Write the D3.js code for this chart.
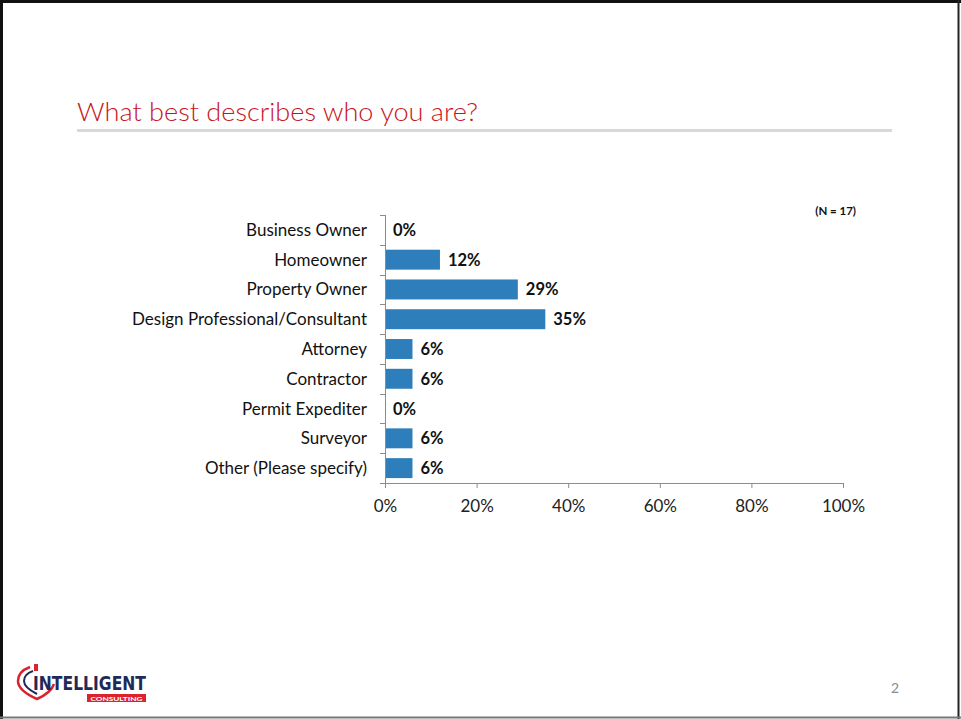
<!DOCTYPE html>
<html>
<head>
<meta charset="utf-8">
<script src="https://cdn.jsdelivr.net/npm/d3@7"></script>
<style>
  html, body { margin: 0; padding: 0; background: #fff; }
  svg { display: block; }
  text { font-family: Lato, "Open Sans", sans-serif; }
</style>
</head>
<body>
<svg id="chart" width="961" height="719"></svg>
<script>
// Survey responses: share of respondents in each group (N = 17)
const categories = [
  "Business Owner",
  "Homeowner",
  "Property Owner",
  "Design Professional/Consultant",
  "Attorney",
  "Contractor",
  "Permit Expediter",
  "Surveyor",
  "Other (Please specify)"
];
const values = [0, 12, 29, 35, 6, 6, 0, 6, 6];
const xTicks = [0, 20, 40, 60, 80, 100];
const titleText = "What best describes who you are?";
const sampleNote = "(N = 17)";
const pageNumber = "2";

const svg = d3.select("#chart");

// Slide frame
svg.append("line").attr("x1", 0).attr("x2", 961).attr("y1", 1.5).attr("y2", 1.5)
  .attr("stroke", "#111").attr("stroke-width", 3);
svg.append("line").attr("x1", 1.5).attr("x2", 1.5).attr("y1", 0).attr("y2", 719)
  .attr("stroke", "#111").attr("stroke-width", 3);
svg.append("line").attr("x1", 958.5).attr("x2", 958.5).attr("y1", 0).attr("y2", 719)
  .attr("stroke", "#222").attr("stroke-width", 2);
svg.append("line").attr("x1", 0).attr("x2", 961).attr("y1", 717.5).attr("y2", 717.5)
  .attr("stroke", "#777").attr("stroke-width", 2);

// Title and rule beneath it
svg.append("text")
  .attr("x", 77).attr("y", 121)
  .attr("fill", "#c8151c")
  .style("font-family", "Lato, 'Liberation Sans', Arial, sans-serif")
  .style("font-weight", "300")
  .style("font-size", "25px")
  .attr("textLength", 401).attr("lengthAdjust", "spacingAndGlyphs")
  .text(titleText);
svg.append("line").attr("x1", 77).attr("x2", 892).attr("y1", 130.5).attr("y2", 130.5)
  .attr("stroke", "#d9d9d9").attr("stroke-width", 3);

// Chart area
const plot = { left: 385, right: 843, top: 215, bottom: 483 };

const x = d3.scaleLinear().domain([0, 100]).range([plot.left, plot.right]);
const y = d3.scaleBand().domain(categories).range([plot.top, plot.bottom])
  .paddingInner(0.33).paddingOuter(0.165);
const yRows = d3.scaleBand().domain(categories).range([plot.top, plot.bottom]);

const axisColor = "#8c8c8c";

// Bars
svg.append("g").selectAll("rect")
  .data(categories)
  .join("rect")
  .attr("x", x(0))
  .attr("y", d => y(d))
  .attr("width", (d, i) => x(values[i]) - x(0))
  .attr("height", y.bandwidth())
  .attr("fill", "#2e7ebb");

// Value labels
svg.append("g").selectAll("text")
  .data(categories)
  .join("text")
  .attr("x", (d, i) => x(values[i]) + 8)
  .attr("y", d => y(d) + y.bandwidth() / 2 + 6)
  .style("font-size", "16.5px")
  .style("font-weight", "bold")
  .attr("fill", "#111")
  .text((d, i) => values[i] + "%");

// X axis (ticks point down)
const xAxis = svg.append("g")
  .attr("transform", `translate(0,${plot.bottom})`)
  .call(d3.axisBottom(x).tickValues(xTicks).tickSize(5).tickSizeOuter(0)
    .tickFormat(d => d + "%"));
xAxis.select(".domain").attr("stroke", axisColor);
xAxis.selectAll(".tick line").attr("stroke", axisColor);
xAxis.selectAll(".tick text")
  .attr("y", 17)
  .style("font-family", "Lato, 'Open Sans', sans-serif")
  .style("font-size", "17px")
  .attr("fill", "#222");

// Y axis: line with ticks at row boundaries, labels centred on rows
const yAxis = svg.append("g");
yAxis.append("line")
  .attr("x1", plot.left + 0.5).attr("x2", plot.left + 0.5)
  .attr("y1", plot.top).attr("y2", plot.bottom)
  .attr("stroke", axisColor);
const boundaries = categories.map(c => yRows(c)).concat([plot.bottom]);
yAxis.selectAll("line.tick")
  .data(boundaries)
  .join("line")
  .attr("class", "tick")
  .attr("x1", plot.left - 5).attr("x2", plot.left)
  .attr("y1", d => Math.round(d) + 0.5).attr("y2", d => Math.round(d) + 0.5)
  .attr("stroke", axisColor);
yAxis.selectAll("text")
  .data(categories)
  .join("text")
  .attr("x", plot.left - 18)
  .attr("y", d => yRows(d) + yRows.bandwidth() / 2 + 6)
  .attr("text-anchor", "end")
  .style("font-size", "17px")
  .attr("fill", "#111")
  .text(d => d);

// Sample size note
svg.append("text")
  .attr("x", 856).attr("y", 215)
  .attr("text-anchor", "end")
  .style("font-size", "11.5px")
  .style("font-weight", "bold")
  .attr("fill", "#111")
  .text(sampleNote);

// Page number
svg.append("text")
  .attr("x", 895).attr("y", 693)
  .attr("text-anchor", "middle")
  .style("font-size", "14px")
  .attr("fill", "#8c8c8c")
  .text(pageNumber);

// Company logo
const logo = svg.append("g");
logo.append("path")
  .attr("d", "M30,667 C22,670 18,675 18,681 C18,689 28,695 37,699 C46,695 52,690 54,684")
  .attr("fill", "none").attr("stroke", "#d9232e").attr("stroke-width", 2.5);
logo.append("path")
  .attr("d", "M33,671 C27,673 24,677 24,681 C24,687 31,691 37,694")
  .attr("fill", "none").attr("stroke", "#1f2a5a").attr("stroke-width", 2);
logo.append("rect").attr("x", 34).attr("y", 664).attr("width", 4).attr("height", 7)
  .attr("fill", "#d9232e");
logo.append("text")
  .attr("x", 33).attr("y", 689.5)
  .style("font-family", "'DejaVu Sans Condensed', 'Liberation Sans', sans-serif")
  .style("font-size", "19px")
  .style("font-weight", "bold")
  .attr("fill", "#1f2a5a")
  .attr("textLength", 113).attr("lengthAdjust", "spacingAndGlyphs")
  .text("INTELLIGENT");
logo.append("rect").attr("x", 87).attr("y", 694).attr("width", 59).attr("height", 8)
  .attr("fill", "#d9232e");
logo.append("text")
  .attr("x", 116.5).attr("y", 700.5)
  .attr("text-anchor", "middle")
  .style("font-size", "6px")
  .style("font-weight", "bold")
  .attr("fill", "#fff")
  .attr("textLength", 52).attr("lengthAdjust", "spacingAndGlyphs")
  .text("CONSULTING");
</script>
</body>
</html>
